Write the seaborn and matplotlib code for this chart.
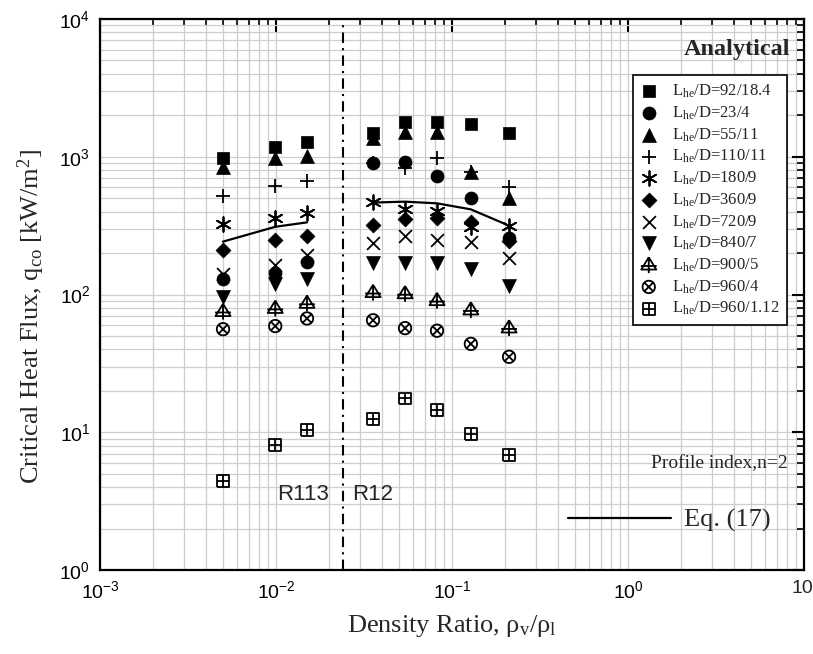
import numpy as np
import matplotlib
matplotlib.use("Agg")
import matplotlib.pyplot as plt
import seaborn as sns
from matplotlib.path import Path
from matplotlib.lines import Line2D
from matplotlib.ticker import LogLocator, NullFormatter

# ---------------- data ----------------
r113_ratio = [0.005, 0.0099, 0.015]
r12_ratio = [0.0356, 0.0541, 0.0822, 0.128, 0.211]
density_ratio = r113_ratio + r12_ratio

series_labels = [
    "92/18.4", "23/4", "55/11", "110/11", "180/9", "360/9",
    "720/9", "840/7", "900/5", "960/4", "960/1.12",
]
q_92_18 = [975, 1172, 1274, 1497, 1799, 1799, 1718, 1497]
q_23_4 = [129, 144, 171, 905, 920, 724, 505, 256]
q_55_11 = [838, 975, 1012, 1362, 1521, 1521, 778, 499]
q_110_11 = [519, 614, 670, 905, 824, 975, 780, 607]
q_180_9 = [324, 357, 388, 472, 415, 406, 308, 316]
q_360_9 = [210, 249, 267, 320, 351, 357, 338, 246]
q_720_9 = [142, 164, 192, 236, 266, 249, 241, 185]
q_840_7 = [96, 120, 129, 169, 170, 170, 152, 115]
q_900_5 = [75, 79, 86, 103, 101, 90, 77, 57]
q_960_4 = [56, 59, 67, 65, 57, 54.6, 43.8, 35.3]
q_960_112 = [4.45, 8.07, 10.4, 12.4, 17.6, 14.5, 9.7, 6.84]
series_values = [q_92_18, q_23_4, q_55_11, q_110_11, q_180_9, q_360_9,
                 q_720_9, q_840_7, q_900_5, q_960_4, q_960_112]

eq17_r113 = [242, 310, 334]
eq17_r12 = [465, 472, 459, 415, 316]

divider_ratio = 0.024

x_ticks = [1e-3, 1e-2, 1e-1, 1, 10]
x_tick_labels = [r"$\mathregular{10^{-3}}$", r"$\mathregular{10^{-2}}$",
                 r"$\mathregular{10^{-1}}$", r"$\mathregular{10^{0}}$", ""]
x_last_label = "10"
y_ticks = [1, 10, 100, 1000, 10000]
y_tick_labels = [r"$\mathregular{10^{0}}$", r"$\mathregular{10^{1}}$",
                 r"$\mathregular{10^{2}}$", r"$\mathregular{10^{3}}$",
                 r"$\mathregular{10^{4}}$"]

# ---------------- custom markers ----------------
M, L = Path.MOVETO, Path.LINETO

tri_cross = Path(
    [(0, 1), (-0.95, -0.55), (0.95, -0.55), (0, 1),
     (-1, -0.1), (1, -0.1), (0, 1), (0, -1)],
    [M, L, L, L, M, L, M, L])

t = np.linspace(0, 2 * np.pi, 41)
circ_v = list(zip(np.cos(t), np.sin(t)))
c = 0.7071
circ_cross = Path(
    circ_v + [(-c, -c), (c, c), (-c, c), (c, -c)],
    [M] + [L] * 40 + [M, L, M, L])

box_plus = Path(
    [(-1, -1), (1, -1), (1, 1), (-1, 1), (-1, -1),
     (-1, 0), (1, 0), (0, -1), (0, 1)],
    [M, L, L, L, L, M, L, M, L])

# marker, size, open (face none)
styles = [
    ("s", 72, False),
    ("o", 88, False),
    ("^", 100, False),
    ("+", 95, False),
    ((6, 2, 0), 110, False),
    ("D", 58, False),
    ("x", 85, False),
    ("v", 100, False),
    (tri_cross, 130, True),
    (circ_cross, 80, True),
    (box_plus, 72, True),
]

# ---------------- figure ----------------
sns.set_style("white")
plt.rcParams["font.family"] = ["Liberation Serif", "DejaVu Sans"]

fig = plt.figure(figsize=(8.13, 6.54), dpi=100)
ax = fig.add_axes([100 / 813, 1 - 570 / 654, 704 / 813, 551 / 654])
ax.set_xscale("log")
ax.set_yscale("log")
ax.set_xlim(1e-3, 10)
ax.set_ylim(1, 1e4)

ax.grid(True, which="both", color="#cdcdcd", lw=0.9)
ax.set_axisbelow(True)

handles = []
for lab, vals, (mk, sz, is_open) in zip(series_labels, series_values, styles):
    kw = dict(color="black", edgecolor="black")
    if is_open:
        kw["facecolor"] = "none"
        kw["linewidth"] = 1.3
    elif mk in ("+", "x") or isinstance(mk, tuple):
        kw = dict(color="black", linewidth=1.3)
    else:
        kw["linewidth"] = 0.5
    sns.scatterplot(x=density_ratio, y=vals, marker=mk, s=sz, ax=ax,
                    legend=False, zorder=3, **kw)
    coll = ax.collections[-1]
    handles.append((coll, r"L$\mathregular{_{he}}$/D=" + lab))

sns.lineplot(x=r113_ratio, y=eq17_r113, color="black", lw=1.6, ax=ax,
             sort=False, legend=False, zorder=2)
sns.lineplot(x=r12_ratio, y=eq17_r12, color="black", lw=1.6, ax=ax,
             sort=False, legend=False, zorder=2)

ax.axvline(divider_ratio, color="black", lw=1.5, dashes=(5, 2.5, 1, 2.5), zorder=2)

# ticks
ax.set_xticks(x_ticks)
ax.set_xticklabels(x_tick_labels, fontfamily="Liberation Sans", fontsize=14)
ax.set_yticks(y_ticks)
ax.set_yticklabels(y_tick_labels, fontfamily="Liberation Sans", fontsize=14)
for axis in (ax.xaxis, ax.yaxis):
    axis.set_minor_locator(LogLocator(base=10, subs=np.arange(2, 10), numticks=20))
    axis.set_minor_formatter(NullFormatter())
ax.tick_params(which="both", direction="in", top=True, right=True, colors="black")
ax.tick_params(which="major", length=9, width=1.5, pad=7)
ax.tick_params(which="minor", length=5, width=1.2)
for sp in ax.spines.values():
    sp.set_color("black")
    sp.set_linewidth(1.6)

# last x tick label, kept inside the figure
ax.text(1.0 + 9 / 704, -0.018, x_last_label, transform=ax.transAxes,
        ha="right", va="top", fontfamily="Liberation Sans", fontsize=14)

ax.set_xlabel(r"Density Ratio, ρ$\mathregular{_v}$/ρ$\mathregular{_l}$",
              fontsize=19, fontfamily="Liberation Serif")
ax.set_ylabel(r"Critical Heat Flux, q$\mathregular{_{co}}$ [kW/m$\mathregular{^2}$]",
              fontsize=19, fontfamily="Liberation Serif")
ax.xaxis.set_label_coords(0.5, -0.078)
ax.yaxis.set_label_coords(-0.075, 0.46)

# text annotations
ax.text(0.0142, 3.56, "R113", fontfamily="Liberation Sans", fontsize=16,
        ha="center", va="center")
ax.text(0.0356, 3.56, "R12", fontfamily="Liberation Sans", fontsize=16,
        ha="center", va="center")
ax.text(0.98, 0.944, "Analytical", transform=ax.transAxes, ha="right",
        va="center", fontsize=17.5, fontweight="bold", fontfamily="Liberation Serif")
ax.text(0.977, 0.193, "Profile index,n=2", transform=ax.transAxes, ha="right",
        va="center", fontsize=14, fontfamily="Liberation Serif")

leg = ax.legend([h for h, _ in handles], [l for _, l in handles],
                loc="upper left", bbox_to_anchor=(0.757, 0.898),
                prop={"family": "Liberation Serif", "size": 12},
                frameon=True, fancybox=False, edgecolor="black",
                framealpha=1, borderpad=0.45, labelspacing=0.26,
                handlelength=1.0, handletextpad=0.9, borderaxespad=0,
                scatterpoints=1)
leg.get_frame().set_linewidth(1.2)
ax.add_artist(leg)

leg2 = ax.legend([Line2D([], [], color="black", lw=1.6)], ["Eq. (17)"],
                 loc="center left", bbox_to_anchor=(0.65, 0.09),
                 prop={"family": "Liberation Serif", "size": 19},
                 frameon=False, handlelength=3.9, handletextpad=0.5,
                 borderaxespad=0)

fig.savefig("out.png", dpi=100)
